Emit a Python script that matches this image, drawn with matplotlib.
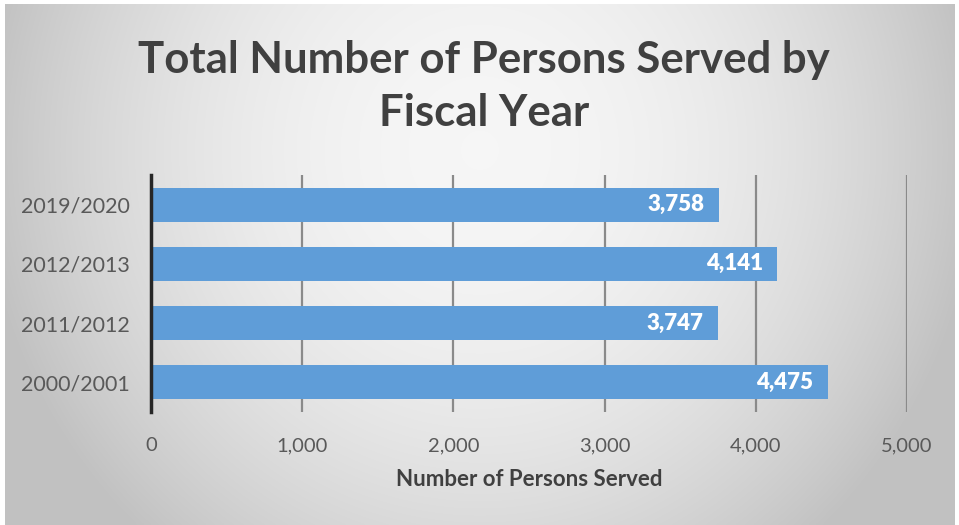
import numpy as np
import matplotlib
matplotlib.use("Agg")
import matplotlib.pyplot as plt

categories = ["2000/2001", "2011/2012", "2012/2013", "2019/2020"]
values = [4475, 3747, 4141, 3758]
xticks = [0, 1000, 2000, 3000, 4000, 5000]
xtick_labels = ["0", "1,000", "2,000", "3,000", "4,000", "5,000"]
title = "Total Number of Persons Served by\nFiscal Year"
xlabel = "Number of Persons Served"

W, H = 959, 525
fig = plt.figure(figsize=(W / 100, H / 100), dpi=100)
fig.patch.set_facecolor("white")

# background gradient
bg = fig.add_axes([5 / W, 0, 950 / W, 1 - 4 / H], zorder=-10)
yy, xx = np.mgrid[0:1:300j, 0:1:600j]
r2 = ((xx - 0.5) / 0.58) ** 2 + ((yy - 0.28) / 1.1) ** 2
v = 0.965 - 0.25 * r2
v = np.clip(v, 0.76, 0.97)
img = np.dstack([v, v, v])
bg.imshow(img, aspect="auto", extent=[0, 1, 0, 1], origin="upper", interpolation="bilinear")
bg.set_axis_off()

ax = fig.add_axes([151 / W, 1 - 412 / H, (907 - 151) / W, (412 - 175) / H])
ax.patch.set_alpha(0)
y = np.arange(len(categories))
bars = ax.barh(y, values, height=0.57, color="#5f9dd8", zorder=3)
ax.set_ylim(-0.5, len(categories) - 0.5)
ax.set_xlim(0, 5000)
ax.set_yticks(y)
ax.set_yticklabels(categories, fontsize=15.5, color="#595959", family="Lato")
ax.set_xticks(xticks)
ax.set_xticklabels(xtick_labels, fontsize=14.5, color="#595959", family="Lato")
ax.tick_params(axis="both", length=0)
ax.tick_params(axis="y", pad=15)
ax.tick_params(axis="x", pad=18)
for s in ["top", "right", "bottom"]:
    ax.spines[s].set_visible(False)
ax.spines["left"].set_color("#262626")
ax.spines["left"].set_linewidth(2.5)
ax.spines["left"].set_zorder(4)
for xt in xticks[1:]:
    ax.axvline(xt, color="#8a8a8a", lw=1.6, zorder=1)

for b, val in zip(bars, values):
    ax.text(b.get_width() - 95, b.get_y() + b.get_height() / 2, f"{val:,}",
            ha="right", va="center", color="white", fontsize=16, fontweight="heavy",
            family="Lato", zorder=5)

ax.set_xlabel(xlabel, fontsize=16, fontweight="bold", color="#404040", family="Lato", labelpad=11)

fig.text(0.505, 1 - 40 / H, title, ha="center", va="top", fontsize=31.5, fontweight="bold",
         color="#404040", family="Lato", linespacing=1.38)

fig.savefig("out.png", dpi=100)
